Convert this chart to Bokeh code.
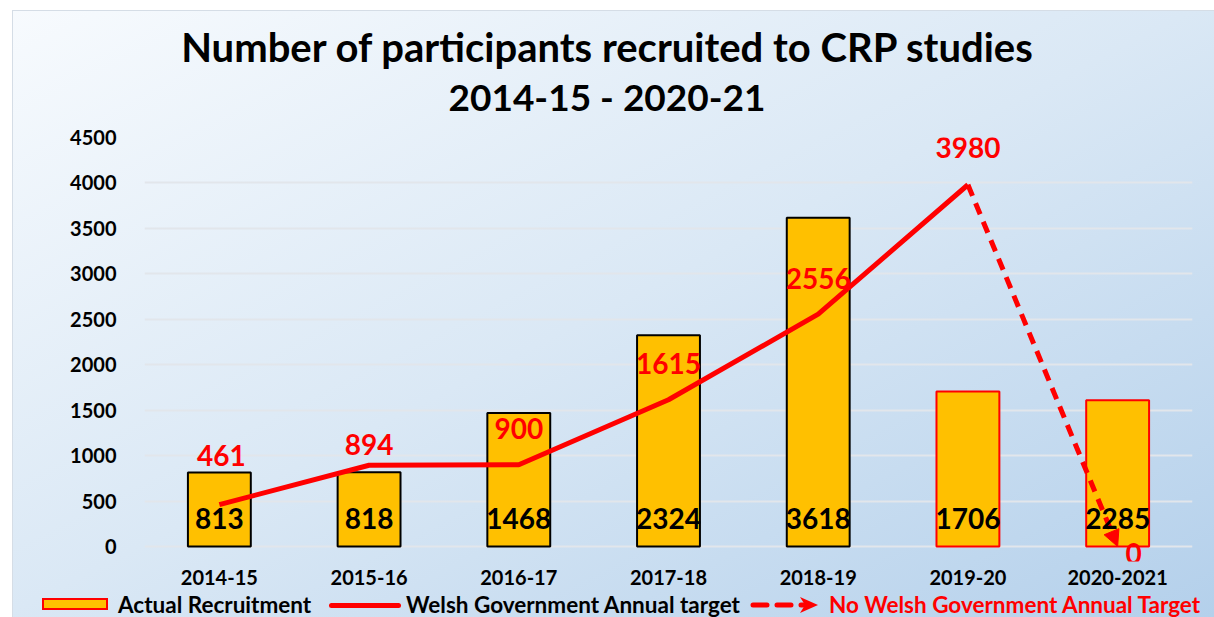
from bokeh.plotting import figure
from bokeh.layouts import column
from bokeh.models import (ColumnDataSource, Range1d, FixedTicker, LabelSet, Arrow, NormalHead, Div)
from bokeh.core.properties import value
from bokeh.embed import file_html
from bokeh.resources import INLINE

# ---------------- data ----------------
years = ["2014-15", "2015-16", "2016-17", "2017-18", "2018-19", "2019-20", "2020-2021"]
actual = [813, 818, 1468, 2324, 3618, 1706, 1610]
actual_labels = ["813", "818", "1468", "2324", "3618", "1706", "2285"]
target = [461, 894, 900, 1615, 2556, 3980]
no_target = [3980, 0]
target_labels = ["461", "894", "900", "1615", "2556", "3980", "0"]
y_ticks = [0, 500, 1000, 1500, 2000, 2500, 3000, 3500, 4000, 4500]
title_lines = ["Number of participants recruited to CRP studies", "2014-15 - 2020-21"]
legend_names = ["Actual Recruitment", "Welsh Government Annual target",
                "No Welsh Government Annual Target"]

# ---------------- styles ----------------
FONT = "Lato"
RED = "#FF0000"
GOLD = "#FFC000"
bar_outline = ["#000000"] * 5 + [RED] * 2
GRADIENT = "linear-gradient(to bottom right, #f8fbfe 0%, #dae8f5 50%, #b4d0eb 100%)"

xs = list(range(len(years)))

# ---------------- title ----------------
title_div = Div(
    text=f"""<div style="width:1214px;text-align:center;font-family:Lato;font-weight:bold;
    color:#000;padding-top:22px;">
    <div style="font-size:40px;line-height:50px;height:50px;white-space:nowrap;">{title_lines[0]}</div>
    <div style="font-size:37px;line-height:50px;height:50px;white-space:nowrap;">{title_lines[1]}</div>
    </div>""",
    width=1214, height=120, margin=0)

# ---------------- chart ----------------
p = figure(width=1214, height=473, x_range=Range1d(-0.5, 6.5), y_range=Range1d(-165, 4500),
           output_backend="svg", toolbar_location=None, margin=0,
           min_border_left=144, min_border_right=22, min_border_top=17, min_border_bottom=32)
p.border_fill_color = None
p.background_fill_color = None
p.outline_line_color = None

p.yaxis.ticker = FixedTicker(ticks=y_ticks)
p.xaxis.ticker = FixedTicker(ticks=xs)
p.xaxis.major_label_overrides = {i: y for i, y in enumerate(years)}
for ax in (p.xaxis, p.yaxis):
    ax.axis_line_color = None
    ax.major_tick_line_color = None
    ax.minor_tick_line_color = None
    ax.major_label_text_font = FONT
    ax.major_label_text_font_style = "bold"
    ax.major_label_text_color = "#000000"
    ax.major_label_text_font_size = "20px"
p.yaxis.major_label_standoff = 22
p.xaxis.major_label_standoff = 2
p.xgrid.grid_line_color = None
p.ygrid.grid_line_color = "#e2e6eb"
p.ygrid.grid_line_width = 2

src = ColumnDataSource(dict(x=xs, top=actual, lab=actual_labels, lc=bar_outline,
                            base=[0] * len(xs)))
p.vbar(x="x", top="top", width=0.42, source=src, fill_color=GOLD, line_color="lc", line_width=2)

p.line(x=xs[:len(target)], y=target, line_color=RED, line_width=5)
p.add_layout(Arrow(x_start=xs[5], y_start=no_target[0], x_end=xs[6], y_end=no_target[1],
                   line_color=RED, line_width=5, line_dash="12 8",
                   end=NormalHead(size=16, fill_color=RED, line_color=RED, line_width=1)))

p.add_layout(LabelSet(x="x", y="base", text="lab", source=src, y_offset=28,
                      text_font=value(FONT), text_font_style="bold", text_font_size="28px",
                      text_align="center", text_baseline="middle", text_color="#000000"))

tsrc = ColumnDataSource(dict(x=xs, y=target + [no_target[1]], lab=target_labels,
                             xo=[2, 0, 0, 0, 0, 0, 16], yo=[49, 21, 36, 36, 36, 37, -7]))
p.add_layout(LabelSet(x="x", y="y", text="lab", source=tsrc, x_offset="xo", y_offset="yo",
                      text_font=value(FONT), text_font_style="bold", text_font_size="28px",
                      text_align="center", text_baseline="middle", text_color=RED))

# ---------------- legend ----------------
legend_div = Div(
    text=f"""<div style="position:relative;width:1214px;height:24px;font-family:Lato;
    font-weight:bold;font-size:22.5px;line-height:24px;color:#000;">
    <span style="position:absolute;left:42px;top:5px;width:66px;height:12px;background:{GOLD};
      border:2px solid {RED};"></span>
    <span style="position:absolute;left:118px;top:0px;white-space:nowrap;">{legend_names[0]}</span>
    <span style="position:absolute;left:329px;top:10px;width:72px;height:5px;background:{RED};
      border-radius:3px;"></span>
    <span style="position:absolute;left:406px;top:0px;white-space:nowrap;">{legend_names[1]}</span>
    <svg style="position:absolute;left:750px;top:2px;" width="70" height="20">
      <line x1="3" y1="10" x2="54" y2="10" stroke="{RED}" stroke-width="5"
        stroke-dasharray="14 10" stroke-linecap="round"/>
      <polygon points="50,2 68,10 50,18 55,10" fill="{RED}"/>
    </svg>
    <span style="position:absolute;left:829px;top:0px;white-space:nowrap;color:{RED};">{legend_names[2]}</span>
    </div>""",
    width=1214, height=24, margin=0)

layout = column(title_div, p, legend_div, spacing=0, margin=0,
                styles={"background": GRADIENT,
                        "box-shadow": "inset 12px 10px 0 0 #ffffff, inset 13px 11px 0 0 #d5dde6"})

open("out.html", "w").write(file_html(layout, INLINE))
